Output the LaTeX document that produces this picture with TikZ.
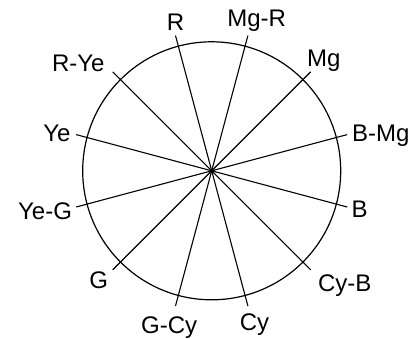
\documentclass[tikz,border=0pt]{standalone}
\usepackage{fontspec}
\setmainfont{Liberation Sans}
\begin{document}
\begin{tikzpicture}[x=1pt,y=-1pt,line width=1.2pt,
  lbl/.style={font=\fontsize{24}{28}\selectfont,inner sep=0pt,anchor=base},
  spoke/.style={line width=1.1pt}]
\useasboundingbox (0,0) rectangle (418,338);
\coordinate (O) at (211.7,170.8);
\draw (O) circle (129);
% spoke ends
\coordinate (eBMg) at (347.2,134.6);
\coordinate (eMg)  at (310.7,71.8);
\coordinate (eMgR) at (247.9,35.6);
\coordinate (eR)   at (175.5,35.6);
\coordinate (eRYe) at (112.7,71.8);
\coordinate (eYe)  at (76.2,134.6);
\coordinate (eYeG) at (76.2,207.0);
\coordinate (eG)   at (112.7,269.8);
\coordinate (eGCy) at (175.5,306.0);
\coordinate (eCy)  at (247.9,306.0);
\coordinate (eCyB) at (310.7,269.8);
\coordinate (eB)   at (347.2,207.0);
\foreach \e in {eBMg,eMg,eMgR,eR,eRYe,eYe,eYeG,eG,eGCy,eCy,eCyB,eB}
  \draw[spoke] (O) -- (\e);
\fill (O) circle (1.5);
% labels
\node[lbl] (lR)   at (175.5,30.7)  {R};
\node[lbl] (lMgR) at (256.7,26.7)  {Mg-R};
\node[lbl] (lMg)  at (323.7,66.7)  {Mg};
\node[lbl] (lBMg) at (380.8,141.7) {B-Mg};
\node[lbl] (lB)   at (359.7,217.3) {B};
\node[lbl] (lCyB) at (344.7,291.7) {Cy-B};
\node[lbl] (lCy)  at (254.5,330.0) {Cy};
\node[lbl] (lGCy) at (169.2,333.3) {G-Cy};
\node[lbl] (lG)   at (98.7,288.3)  {G};
\node[lbl] (lYeG) at (45.0,219.3)  {Ye-G};
\node[lbl] (lYe)  at (57.0,141.7)  {Ye};
\node[lbl] (lRYe) at (78.3,71.7)   {R-Ye};
\end{tikzpicture}
\end{document}
